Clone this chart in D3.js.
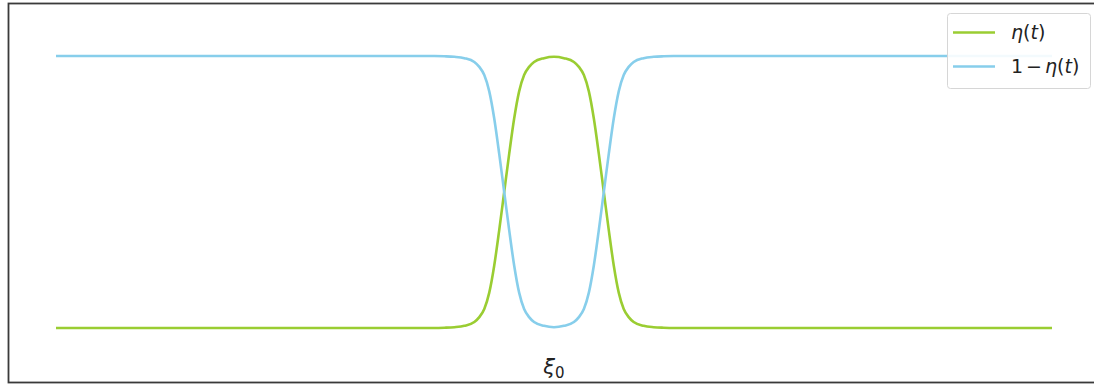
<!DOCTYPE html>
<html>
<head>
<meta charset="utf-8">
<script src="https://cdn.jsdelivr.net/npm/d3@7"></script>
<style>
  html, body { margin: 0; padding: 0; background: #fff; }
  svg { display: block; }
  text { font-family: "DejaVu Sans", sans-serif; }
</style>
</head>
<body>
<svg id="chart" width="1094" height="387"></svg>
<script>
// sample positions along t
const tValues = [0, 10, 20, 30, 36, 38, 39, 40, 41, 42, 42.5, 43, 43.5, 44, 44.5, 45, 45.5, 46, 46.5, 47, 47.5, 48, 49,
                 50, 51, 52, 52.5, 53, 53.5, 54, 54.5, 55, 55.5, 56, 56.5, 57, 57.5, 58, 59, 60, 61, 62, 64, 70, 80, 90, 100];
// bump function η(t)
const etaValues = [0, 0, 0, 0, 0, 0, 0.001, 0.003, 0.008, 0.022, 0.04, 0.07, 0.13, 0.23, 0.36, 0.5, 0.64, 0.77, 0.87, 0.93, 0.96, 0.978, 0.992,
                   0.997, 0.992, 0.978, 0.96, 0.93, 0.87, 0.77, 0.64, 0.5, 0.36, 0.23, 0.13, 0.07, 0.04, 0.022, 0.008, 0.003, 0.001, 0, 0, 0, 0, 0, 0];
// complementary curve 1 − η(t)
const oneMinusEtaValues = [1, 1, 1, 1, 1, 1, 0.999, 0.997, 0.992, 0.978, 0.96, 0.93, 0.87, 0.77, 0.64, 0.5, 0.36, 0.23, 0.13, 0.07, 0.04, 0.022, 0.008,
                           0.003, 0.008, 0.022, 0.04, 0.07, 0.13, 0.23, 0.36, 0.5, 0.64, 0.77, 0.87, 0.93, 0.96, 0.978, 0.992, 0.997, 0.999, 1, 1, 1, 1, 1, 1];
const seriesNames = ["η(t)", "1 − η(t)"];
const tickPositions = [50];
const tickLabels = [{ base: "ξ", sub: "0" }];

const colors = ["#9acd32", "#87ceeb"];

const svg = d3.select("#chart");

const x = d3.scaleLinear().domain([0, 100]).range([56, 1052]);
const y = d3.scaleLinear().domain([0, 1]).range([328, 56]);

// axes frame (extends past the right edge)
svg.append("rect")
  .attr("x", 8.5).attr("y", 3.5)
  .attr("width", 1100).attr("height", 379)
  .attr("fill", "none")
  .attr("stroke", "#3a3a3a")
  .attr("stroke-width", 1.8);

const line = d3.line()
  .x(d => x(d[0]))
  .y(d => y(d[1]))
  .curve(d3.curveMonotoneX);

const series = [etaValues, oneMinusEtaValues];
series.forEach((vals, i) => {
  svg.append("path")
    .datum(tValues.map((t, k) => [t, vals[k]]))
    .attr("d", line)
    .attr("fill", "none")
    .attr("stroke", colors[i])
    .attr("stroke-width", 2.6)
    .attr("stroke-linejoin", "round");
});

// x tick label
tickPositions.forEach((p, i) => {
  const t = svg.append("text")
    .attr("x", x(p))
    .attr("y", 374)
    .attr("text-anchor", "middle")
    .attr("font-size", 21)
    .attr("fill", "#222");
  t.append("tspan").attr("font-style", "italic").text(tickLabels[i].base);
  t.append("tspan").attr("font-size", 15).attr("dy", 4).text(tickLabels[i].sub);
});

// legend
const lg = svg.append("g");
lg.append("rect")
  .attr("x", 947.5).attr("y", 13.5)
  .attr("width", 143).attr("height", 75)
  .attr("rx", 3)
  .attr("fill", "#fff").attr("fill-opacity", 0.9)
  .attr("stroke", "#d6d6d6").attr("stroke-width", 1);

const legendRows = [32.5, 66.5];
seriesNames.forEach((name, i) => {
  lg.append("line")
    .attr("x1", 953).attr("x2", 995)
    .attr("y1", legendRows[i]).attr("y2", legendRows[i])
    .attr("stroke", colors[i]).attr("stroke-width", 2.6);
  const txt = lg.append("text")
    .attr("x", 1011).attr("y", legendRows[i] + 6.5)
    .attr("font-size", 19)
    .attr("fill", "#222");
  if (i === 1) {
    txt.append("tspan").text("1");
    txt.append("tspan").attr("dx", 3).text("−");
    txt.append("tspan").attr("dx", 3).attr("font-style", "italic").text("η");
  } else {
    txt.append("tspan").attr("font-style", "italic").text("η");
  }
  txt.append("tspan").text("(");
  txt.append("tspan").attr("font-style", "italic").text("t");
  txt.append("tspan").text(")");
});
</script>
</body>
</html>
